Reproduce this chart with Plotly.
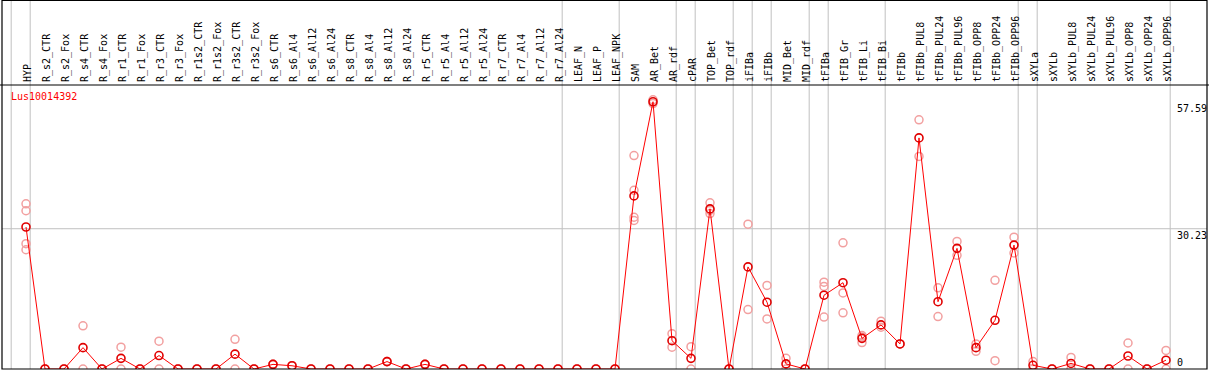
import plotly.graph_objects as go

gene = "Lus10014392"

categories = [
    "HYP",
    "R_s2_CTR", "R_s2_Fox", "R_s4_CTR", "R_s4_Fox", "R_r1_CTR", "R_r1_Fox",
    "R_r3_CTR", "R_r3_Fox", "R_r1s2_CTR", "R_r1s2_Fox", "R_r3s2_CTR", "R_r3s2_Fox",
    "R_s6_CTR", "R_s6_Al4", "R_s6_Al12", "R_s6_Al24",
    "R_s8_CTR", "R_s8_Al4", "R_s8_Al12", "R_s8_Al24",
    "R_r5_CTR", "R_r5_Al4", "R_r5_Al12", "R_r5_Al24",
    "R_r7_CTR", "R_r7_Al4", "R_r7_Al12", "R_r7_Al24",
    "LEAF_N", "LEAF_P", "LEAF_NPK",
    "SAM", "AR_Bet", "AR_rdf",
    "cPAR",
    "TOP_Bet", "TOP_rdf",
    "iFIBa",
    "iFIBb",
    "MID_Bet", "MID_rdf",
    "tFIBa",
    "tFIB_Gr", "tFIB_Li", "tFIB_Bi",
    "tFIBb", "tFIBb_PUL8", "tFIBb_PUL24", "tFIBb_PUL96", "tFIBb_OPP8", "tFIBb_OPP24", "tFIBb_OPP96",
    "sXYLa",
    "sXYLb", "sXYLb_PUL8", "sXYLb_PUL24", "sXYLb_PUL96", "sXYLb_OPP8", "sXYLb_OPP24", "sXYLb_OPP96",
]

# sizes of sample groups (separated by vertical grid lines)
group_sizes = [1, 28, 3, 3, 1, 2, 1, 1, 2, 1, 3, 7, 1, 7]

means = [
    30.6,
    0, 0, 4.6, 0, 2.3, 0,
    2.9, 0, 0, 0, 3.2, 0,
    1.0, 0.7, 0, 0,
    0, 0, 1.6, 0,
    1.0, 0, 0, 0,
    0, 0, 0, 0,
    0, 0, 0,
    37.3, 57.59, 6.1,
    2.3,
    34.5, 0,
    22.0,
    14.4,
    1.1, 0,
    15.9,
    18.6, 6.6, 9.5,
    5.4, 49.8, 14.5, 26.0, 4.6, 10.5, 26.7,
    0.8,
    0, 1.2, 0, 0, 2.8, 0, 1.9,
]

replicates = [
    [35.6, 34.1, 27.0, 25.7],
    [0, 0], [0, 0], [9.3, 0], [0, 0], [4.7, 0], [0, 0],
    [6.0, 0], [0, 0], [0, 0], [0, 0], [6.4, 0], [0, 0],
    [1.0, 1.0], [0.7, 0.7], [0, 0], [0, 0],
    [0, 0], [0, 0], [1.6, 1.6], [0, 0],
    [1.0, 1.0], [0, 0], [0, 0], [0, 0],
    [0, 0], [0, 0], [0, 0], [0, 0],
    [0, 0], [0, 0], [0, 0],
    [46.0, 38.5, 32.7, 32.0], [58.0, 57.2], [7.6, 4.7],
    [4.8, 0],
    [35.8, 33.5, 34.2], [0, 0],
    [31.2, 12.8],
    [18.0, 10.8],
    [2.3, 0], [0, 0],
    [18.7, 17.8, 11.2],
    [27.2, 16.4, 12.1], [7.2, 5.7, 6.9], [10.3, 9.0],
    [5.4, 5.4], [53.7, 45.8], [17.5, 11.3], [27.5, 24.5], [5.4, 3.8], [19.1, 1.8], [28.4, 25.0],
    [1.6, 0],
    [0, 0], [2.5, 0], [0, 0], [0, 0], [5.6, 0], [0, 0], [4.0, 0],
]

ytick_vals = [0, 30.23, 57.59]
ytick_text = ["0", "30.23", "57.59"]
hgrid_vals = [30.23]

FONT = "DejaVu Sans Mono"
W, H = 1209, 370
ML, MR, MT, MB = 2, 2, 85, 1
plot_w = W - ML - MR
plot_h = H - MT - MB

x_idx = list(range(len(categories)))
rep_x, rep_y = [], []
for i, reps in enumerate(replicates):
    for v in reps:
        rep_x.append(i)
        rep_y.append(v)

fig = go.Figure()
fig.add_trace(go.Scatter(
    x=rep_x, y=rep_y, mode="markers",
    marker=dict(symbol="circle-open", size=8, color="#f2a0a0", line=dict(width=1.5)),
    hoverinfo="skip", showlegend=False,
))
fig.add_trace(go.Scatter(
    x=x_idx, y=means, mode="lines+markers",
    line=dict(color="#ff0000", width=1),
    marker=dict(symbol="circle-open", size=8, color="#e00000", line=dict(width=1.6)),
    showlegend=False,
))

shapes = []
top_paper = (plot_h + MT - 0.5) / plot_h
# group separators
bounds = [-1]
acc = -1
for g in group_sizes:
    acc += g
    bounds.append(acc)
for b in bounds:
    shapes.append(dict(type="line", xref="x", yref="paper", x0=b + 0.22, x1=b + 0.22,
                       y0=0, y1=top_paper, line=dict(color="#c0c0c0", width=1), layer="below"))
for v in hgrid_vals:
    shapes.append(dict(type="line", xref="paper", yref="y", x0=0, x1=1, y0=v, y1=v,
                       line=dict(color="#c0c0c0", width=1), layer="below"))
# black frame and header separator
shapes.append(dict(type="rect", xref="paper", yref="paper", x0=0, x1=1, y0=0, y1=top_paper,
                   line=dict(color="black", width=1.2), layer="above"))
shapes.append(dict(type="line", xref="paper", yref="paper", x0=-0.01, x1=1.01, y0=1, y1=1,
                   line=dict(color="black", width=1.2), layer="above"))

annotations = [dict(
    text=gene, xref="paper", yref="paper", x=(9 - ML) / plot_w, y=(plot_h + MT - 96.7) / plot_h,
    xanchor="left", yanchor="middle", showarrow=False,
    font=dict(family=FONT, size=10, color="#ff0000"),
)]
for v, t in zip(ytick_vals, ytick_text):
    annotations.append(dict(
        text=t, xref="paper", yref="y", x=(1176 - ML) / plot_w, y=v,
        xanchor="left", yanchor="bottom" if v == 0 else "top", showarrow=False, borderpad=0,
        font=dict(family=FONT, size=10, color="black"),
    ))

x0_px = 26
step = 19.0
fig.update_layout(
    width=W, height=H,
    margin=dict(l=ML, r=MR, t=MT, b=MB, pad=0),
    paper_bgcolor="white", plot_bgcolor="white",
    shapes=shapes, annotations=annotations,
    xaxis=dict(
        range=[(ML - x0_px) / step, (W - MR - x0_px) / step],
        side="top", tickmode="array", tickvals=x_idx, ticktext=categories,
        tickangle=-90, ticks="", ticklen=0, showgrid=False, zeroline=False,
        showline=False, automargin=False, ticklabelshift=2, ticklabelstandoff=2,
        tickfont=dict(family=FONT, size=10, color="black"),
    ),
    yaxis=dict(
        range=[0, 61.2], showticklabels=False, showgrid=False, zeroline=False,
        showline=False, ticks="", automargin=False,
    ),
)

fig.write_html("out.html", config={"displayModeBar": False},
               post_script="document.body.style.margin='0';")
